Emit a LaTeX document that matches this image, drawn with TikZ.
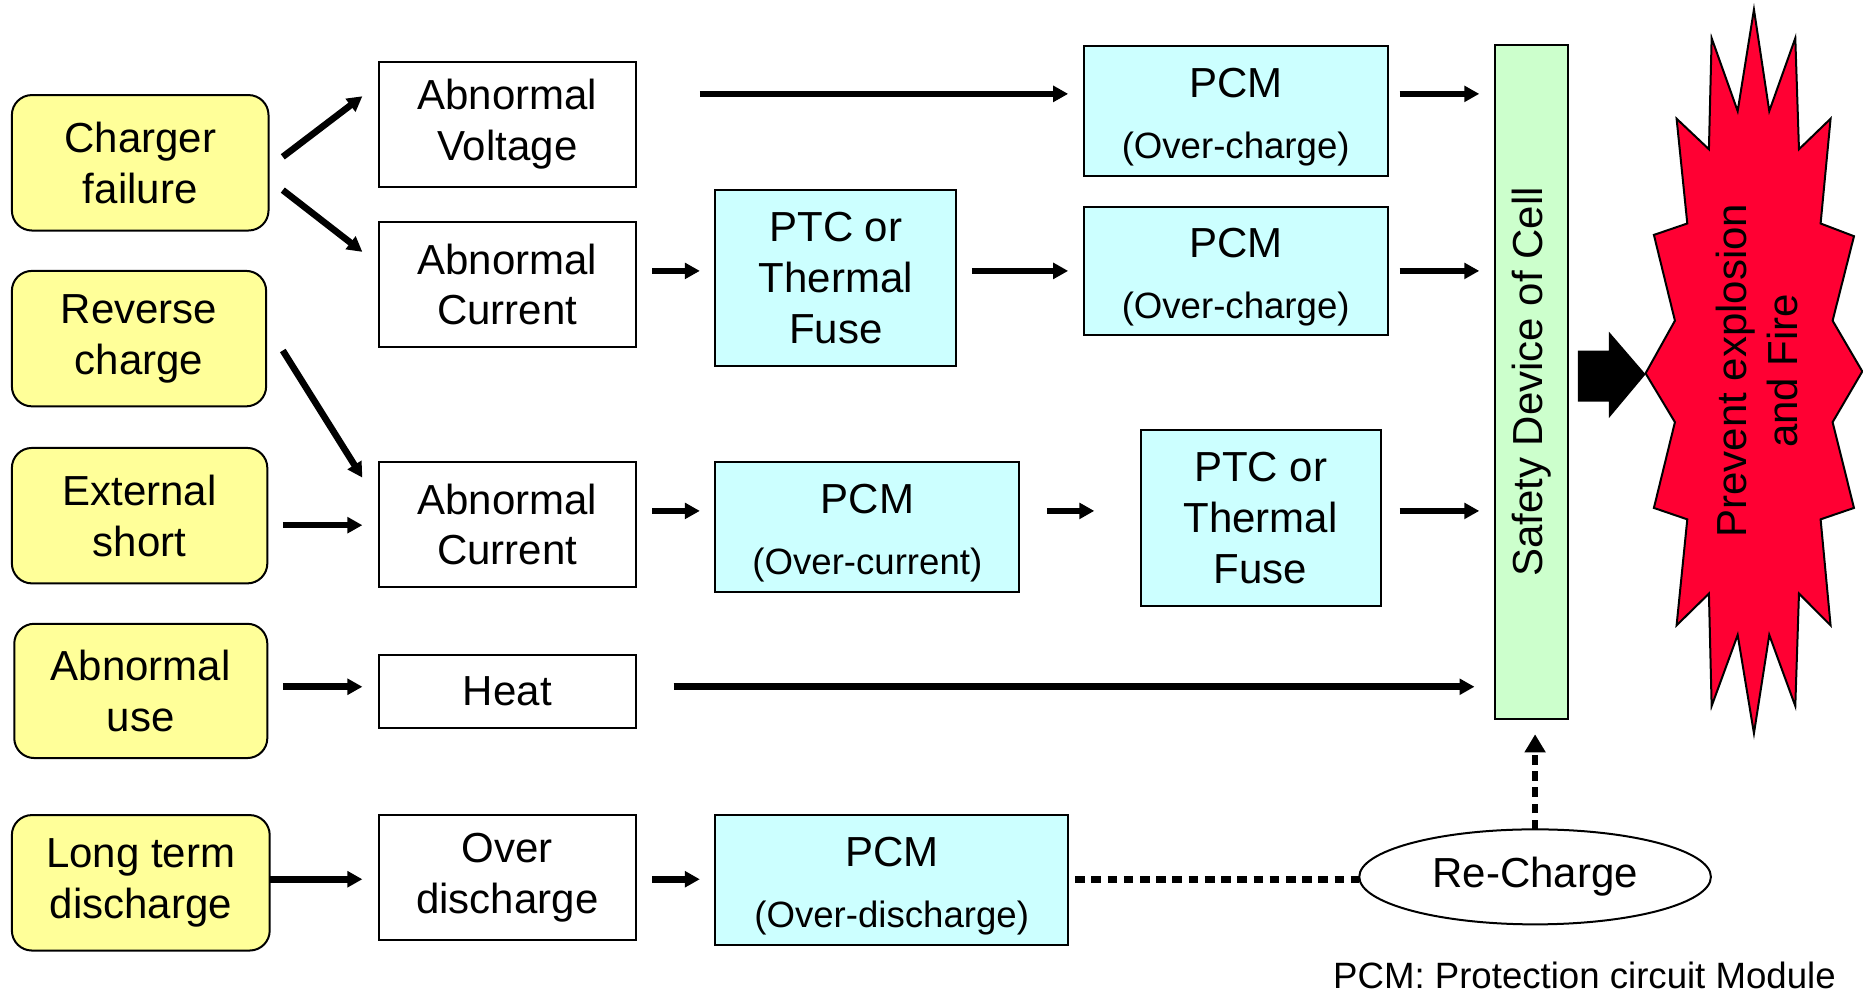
\documentclass[tikz,border=0pt]{standalone}
\usepackage{fontspec}
\setmainfont{Liberation Sans}
\usetikzlibrary{arrows.meta,shapes.geometric}
\definecolor{yellowfill}{HTML}{FFFF99}
\definecolor{cyanfill}{HTML}{CCFFFF}
\definecolor{greenfill}{HTML}{CCFFCC}
\definecolor{redfill}{HTML}{FF0033}
\newcommand{\smalltxt}{\fontsize{18.3}{22}\selectfont}
\newcommand{\pcmtxt}[1]{\rule{0pt}{21pt}PCM\\[5pt]{\smalltxt(#1)}}
\begin{document}
\begin{tikzpicture}[x=0.594pt,y=-0.594pt,
  every node/.style={font=\fontsize{21}{25.4}\selectfont, align=center, inner sep=0pt, outer sep=0pt},
  sz/.style 2 args={minimum width=#1*0.594pt, minimum height=#2*0.594pt},
  ybox/.style={draw, line width=1pt, fill=yellowfill, rounded corners=10pt},
  wbox/.style={draw, line width=1pt, fill=white},
  cbox/.style={draw, line width=1pt, fill=cyanfill},
  arr/.style={line width=3.3pt, -{Triangle[length=7.5pt,width=7.8pt]}},
  dotline/.style={line width=3.3pt, dash pattern=on 4.8pt off 3.3pt}]
\useasboundingbox (0,0) rectangle (1568,837);

% left column causes
\node[ybox, sz={216}{114}] (cf) at (118,137) {Charger\\failure};
\node[ybox, sz={214}{114}] (rc) at (117,285) {Reverse\\charge};
\node[ybox, sz={215}{114}] (es) at (117.5,434) {External\\short};
\node[ybox, sz={213}{113}] (au) at (118.5,581.5) {Abnormal\\use};
\node[ybox, sz={217}{114}] (ltd) at (118.5,743) {Long term\\discharge};

% second column
\node[wbox, sz={216}{105}] (av) at (427,104.5) {Abnormal\\Voltage};
\node[wbox, sz={216}{105}] (ac1) at (427,239.5) {Abnormal\\Current};
\node[wbox, sz={216}{105}] (ac2) at (427,441.5) {Abnormal\\Current};
\node[wbox, sz={216}{62}] (heat) at (427,582) {Heat};
\node[wbox, sz={216}{105}] (od) at (427,738.5) {Over\\discharge};

% protection devices
\node[cbox, sz={203}{148}] (ptc1) at (703.5,234) {PTC or\\Thermal\\Fuse};
\node[cbox, sz={256}{109}] (pcm1) at (1040,93.5) {\pcmtxt{Over-charge}};
\node[cbox, sz={256}{108}] (pcm2) at (1040,228) {\pcmtxt{Over-charge}};
\node[cbox, sz={256}{109}] (pcmoc) at (730,443.5) {\pcmtxt{Over-current}};
\node[cbox, sz={202}{148}] (ptc2) at (1061,436) {PTC or\\Thermal\\Fuse};
\node[cbox, sz={297}{109}] (pcmod) at (750.5,740.5) {\pcmtxt{Over-discharge}};

% safety device
\node[draw, line width=1pt, fill=greenfill, sz={62}{567}] (safe) at (1289,321.5) {};
\node[rotate=90] (safetxt) at (safe.center) {Safety Device of Cell};

% re-charge
\node[draw, ellipse, line width=1pt, minimum width=175.8pt, minimum height=47.5pt] (rech) at (1292,738) {Re-Charge};

% starburst
\filldraw[fill=redfill, line width=1pt, line join=miter]
 (1476.2,8.0) -- (1489.1,93.5) -- (1511.0,32.1) -- (1514.1,125.6) -- (1540.7,99.9) -- (1532.3,188.1)
 -- (1560.4,198.8) -- (1542.4,269.9) -- (1567.4,312.6) -- (1542.4,355.3) -- (1560.4,427.5)
 -- (1532.3,437.1) -- (1540.7,526.3) -- (1514.1,499.6) -- (1511.0,594.2) -- (1489.1,534.4)
 -- (1476.2,617.2) -- (1462.5,534.4) -- (1440.6,594.2) -- (1438.3,499.6) -- (1411.1,526.3)
 -- (1420.1,437.1) -- (1392.0,427.5) -- (1409.7,355.3) -- (1385.0,314.2) -- (1409.7,269.9)
 -- (1392.0,197.7) -- (1420.1,188.1) -- (1411.1,99.9) -- (1438.3,125.6) -- (1440.6,32.1)
 -- (1462.5,93.5) -- cycle;
\node[rotate=90] (burst) at (1479,312) {Prevent explosion\\and Fire};

% big block arrow
\fill (1328,295) -- (1354,295) -- (1354,279) -- (1385,315) -- (1354,352) -- (1354,338) -- (1328,338) -- cycle;

% connectors
\draw[arr] ([shift={(12,-5)}]cf.east) -- ([shift={(-14,-23.5)}]av.west);
\draw[arr] ([shift={(12,23)}]cf.east) -- ([shift={(-14,-27.5)}]ac1.west);
\draw[arr] ([shift={(54,-25.5)}]av.east) -- ([shift={(-13,-14.5)}]pcm1.west);
\draw[arr] ([shift={(10,-14.5)}]pcm1.east) -- ([shift={(-13,41)}]safe.north west);
\draw[arr] ([shift={(14,-11.5)}]ac1.east) -- ([shift={(-13,-6)}]ptc1.west);
\draw[arr] ([shift={(13,-6)}]ptc1.east) -- ([shift={(-13,0)}]pcm2.west);
\draw[arr] ([shift={(10,0)}]pcm2.east) -- ([shift={(-13,190)}]safe.north west);
\draw[arr] ([shift={(14,10)}]rc.east) -- ([shift={(-14,-39.5)}]ac2.west);
\draw[arr] ([shift={(13,8)}]es.east) -- ([shift={(-14,0.5)}]ac2.west);
\draw[arr] ([shift={(14,-11.5)}]ac2.east) -- ([shift={(-13,-13.5)}]pcmoc.west);
\draw[arr] ([shift={(23,-13.5)}]pcmoc.east) -- ([shift={(-39,-6)}]ptc2.west);
\draw[arr] ([shift={(16,-6)}]ptc2.east) -- ([shift={(-13,392)}]safe.north west);
\draw[arr] ([shift={(13,-3.5)}]au.east) -- ([shift={(-14,-4)}]heat.west);
\draw[arr] ([shift={(32,-4)}]heat.east) -- ([shift={(-17,540)}]safe.north west);
\draw[arr] ([shift={(0,-3)}]ltd.east) -- ([shift={(-14,1.5)}]od.west);
\draw[arr] ([shift={(14,1.5)}]od.east) -- ([shift={(-13,-0.5)}]pcmod.west);
\draw[dotline] ([shift={(6,-0.5)}]pcmod.east) -- ([shift={(0,2)}]rech.west);
\draw[dotline, -{Triangle[length=9pt,width=10pt]}] (rech.north) -- ([shift={(3,13)}]safe.south);

% footnote
\node[anchor=base east, font=\fontsize{18.3}{22}\selectfont] (note) at (1545,832) {PCM: Protection circuit Module};
\end{tikzpicture}
\end{document}
